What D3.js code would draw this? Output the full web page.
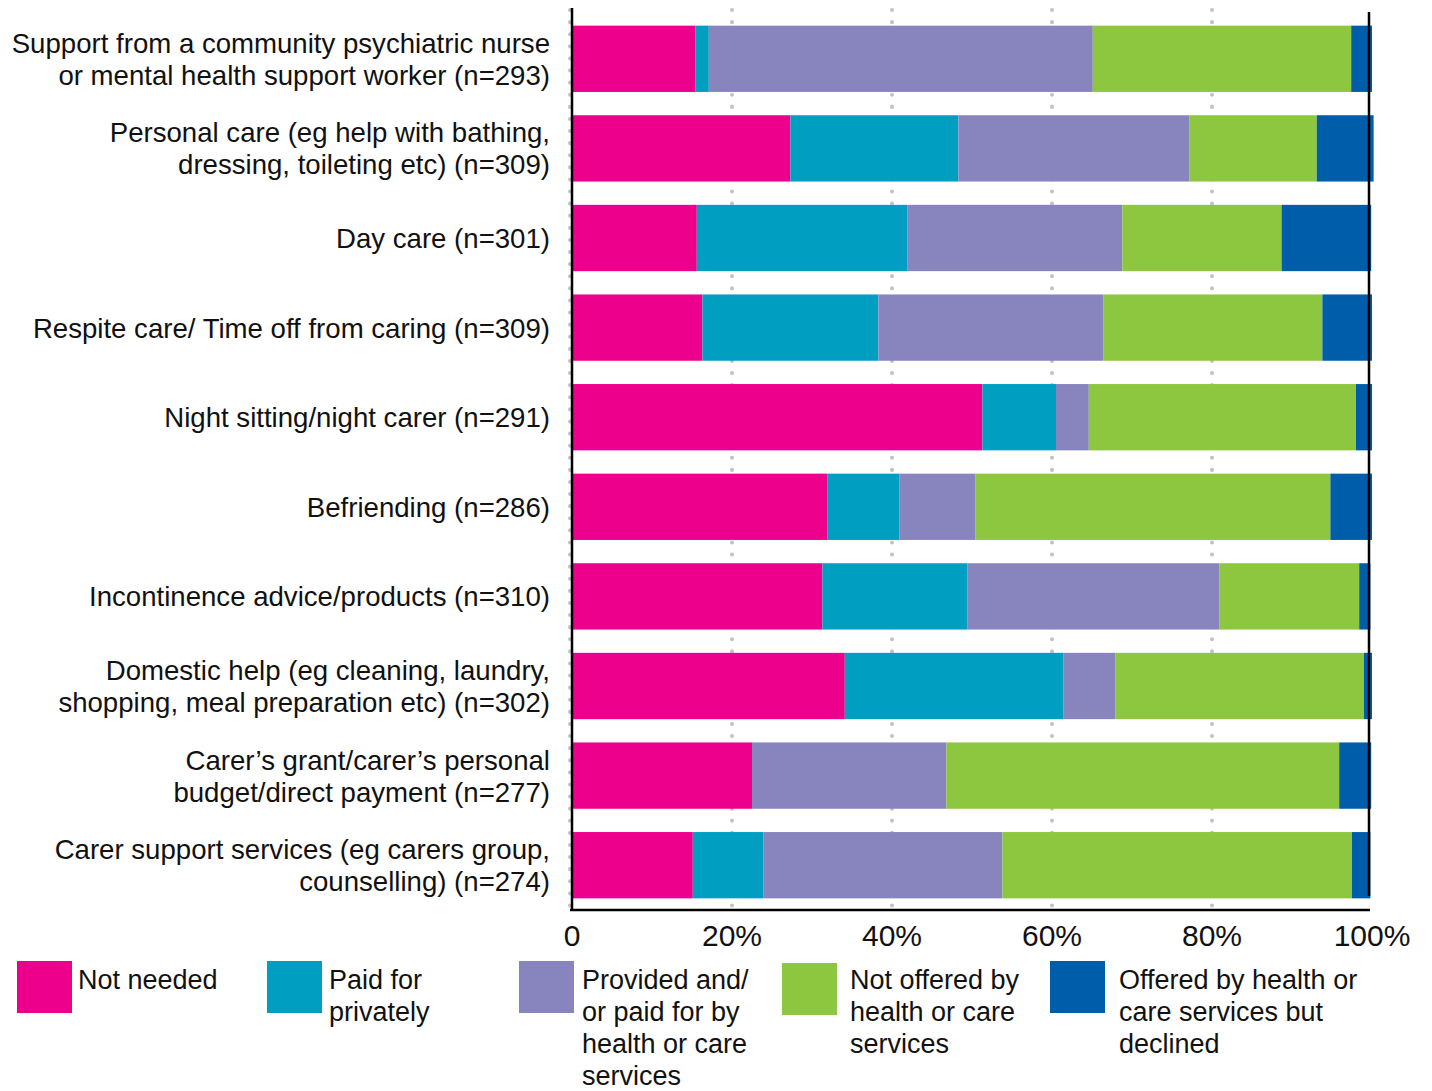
<!DOCTYPE html>
<html>
<head>
<meta charset="utf-8">
<script src="https://cdn.jsdelivr.net/npm/d3@7"></script>
<style>
  body { margin: 0; background: #fff; }
  text { font-family: "Liberation Sans", Arial, sans-serif; fill: #111; }
</style>
</head>
<body>
<div id="chart"></div>
<script>
// Data --------------------------------------------------------------
let categories = [
  ["Support from a community psychiatric nurse", "or mental health support worker (n=293)"],
  ["Personal care (eg help with bathing,", "dressing, toileting etc) (n=309)"],
  ["Day care (n=301)"],
  ["Respite care/ Time off from caring (n=309)"],
  ["Night sitting/night carer (n=291)"],
  ["Befriending (n=286)"],
  ["Incontinence advice/products (n=310)"],
  ["Domestic help (eg cleaning, laundry,", "shopping, meal preparation etc) (n=302)"],
  ["Carer\u2019s grant/carer\u2019s personal", "budget/direct payment (n=277)"],
  ["Carer support services (eg carers group,", "counselling) (n=274)"],
];

let series_names = [
  ["Not needed"],
  ["Paid for", "privately"],
  ["Provided and/", "or paid for by", "health or care", "services"],
  ["Not offered by", "health or care", "services"],
  ["Offered by health or", "care services but", "declined"],
];

let not_needed = [15.4, 27.3, 15.6, 16.3, 51.3, 31.9, 31.3, 34.1, 22.5, 15.1];
let paid_privately = [1.7, 21.0, 26.3, 22.0, 9.2, 9.0, 18.1, 27.3, 0, 8.8];
let provided = [48.0, 28.9, 26.9, 28.1, 4.1, 9.5, 31.5, 6.5, 24.3, 29.9];
let not_offered = [32.3, 15.9, 19.9, 27.4, 33.4, 44.4, 17.5, 31.1, 49.1, 43.7];
let declined = [2.6, 7.1, 11.2, 6.2, 2.0, 5.2, 1.4, 1.0, 4.0, 2.3];

let tick_values = [0, 20, 40, 60, 80, 100];
let tick_labels = ["0", "20%", "40%", "60%", "80%", "100%"];

let colors = ["#ec008c", "#009fc2", "#8884be", "#8dc63f", "#005daa"];

// Layout ------------------------------------------------------------
let width = 1432, height = 1091;
let margin = { top: 14, left: 572, right: 60, bottom: 181 };

let svg = d3
  .select("#chart")
  .append("svg")
  .attr("width", width)
  .attr("height", height);

let x = d3.scaleLinear().domain([0, 100]).range([margin.left, margin.left + 800]);
let y = d3
  .scaleBand()
  .domain(d3.range(categories.length))
  .range([margin.top, height - margin.bottom])
  .paddingInner(0.26)
  .paddingOuter(0.13);

// Build stacked data
let rows = d3.range(categories.length).map((i) => ({
  idx: i,
  s0: not_needed[i],
  s1: paid_privately[i],
  s2: provided[i],
  s3: not_offered[i],
  s4: declined[i],
}));
let stack = d3.stack().keys(["s0", "s1", "s2", "s3", "s4"]);
let stacked = stack(rows);

// Dotted grid lines (behind bars)
svg
  .append("g")
  .selectAll("line")
  .data(tick_values.slice(0, 5))
  .enter()
  .append("line")
  .attr("x1", (d) => x(d) - (d == 0 ? 2 : 0))
  .attr("x2", (d) => x(d) - (d == 0 ? 2 : 0))
  .attr("y1", 10)
  .attr("y2", 910)
  .attr("stroke", "#c2c2c2")
  .attr("stroke-width", 4)
  .attr("stroke-linecap", "round")
  .attr("stroke-dasharray", "0.1 12");

// Bars
svg
  .append("g")
  .selectAll("g")
  .data(stacked)
  .enter()
  .append("g")
  .attr("fill", (d, i) => colors[i])
  .selectAll("rect")
  .data((d) => d)
  .enter()
  .append("rect")
  .attr("x", (d) => x(d[0]))
  .attr("width", (d) => x(d[1]) - x(d[0]))
  .attr("y", (d) => y(d.data.idx))
  .attr("height", y.bandwidth());

// Axis lines
svg
  .append("line")
  .attr("x1", x(0))
  .attr("x2", x(0))
  .attr("y1", 8)
  .attr("y2", 911)
  .attr("stroke", "#000")
  .attr("stroke-width", 2.5);

svg
  .append("line")
  .attr("x1", x(100) - 3)
  .attr("x2", x(100) - 3)
  .attr("y1", 12)
  .attr("y2", 896)
  .attr("stroke", "#000")
  .attr("stroke-width", 2.5);

svg
  .append("line")
  .attr("x1", x(0) - 2)
  .attr("x2", x(100) - 2)
  .attr("y1", 910)
  .attr("y2", 910)
  .attr("stroke", "#000")
  .attr("stroke-width", 2.5);

// Tick labels
svg
  .append("g")
  .selectAll("text")
  .data(tick_values)
  .enter()
  .append("text")
  .attr("x", (d) => x(d))
  .attr("y", 946)
  .attr("text-anchor", "middle")
  .attr("font-size", 30)
  .text((d, i) => tick_labels[i]);

// Category labels
let cat_labels = svg
  .append("g")
  .selectAll("text")
  .data(categories)
  .enter()
  .append("text")
  .attr("text-anchor", "end")
  .attr("font-size", 27.6);

cat_labels
  .selectAll("tspan")
  .data((d, i) => d.map((line, j) => ({ line, j, n: d.length, i })))
  .enter()
  .append("tspan")
  .attr("x", 550)
  .attr("y", (d) => y(d.i) + y.bandwidth() / 2 + (d.j - (d.n - 1) / 2) * 32)
  .attr("dy", "0.36em")
  .text((d) => d.line);

// Legend
let legend_x = [17, 267, 519, 782, 1050];
let legend_text_dx = [61, 62, 63, 68, 69];
let legend = svg
  .append("g")
  .selectAll("g")
  .data(series_names)
  .enter()
  .append("g")
  .attr("transform", (d, i) => `translate(${legend_x[i]},961)`);

legend
  .append("rect")
  .attr("width", 55)
  .attr("height", 52)
  .attr("y", (d, i) => (i == 3 ? 2 : 0))
  .attr("fill", (d, i) => colors[i]);

legend
  .append("text")
  .attr("font-size", 27)
  .attr("x", (d, i) => legend_text_dx[i])
  .each(function (d, i) {
    d3.select(this)
      .selectAll("tspan")
      .data(d)
      .enter()
      .append("tspan")
      .attr("x", legend_text_dx[i])
      .attr("y", (line, j) => 28 + j * 32)
      .text((line) => line);
  });
</script>
</body>
</html>
